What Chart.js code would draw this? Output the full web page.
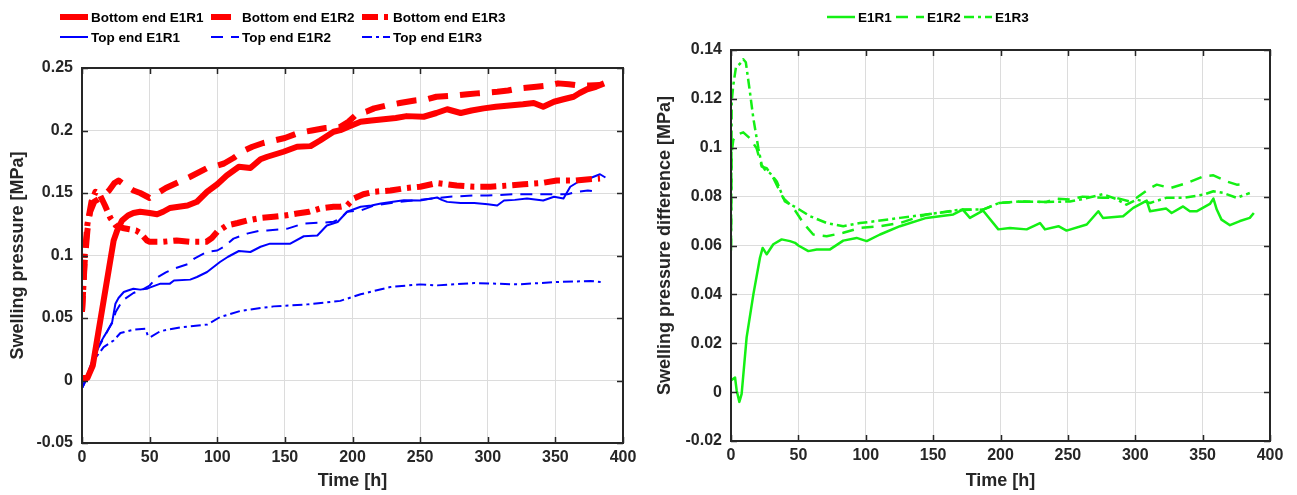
<!DOCTYPE html>
<html>
<head>
<meta charset="utf-8">
<title>Swelling pressure</title>
<script src="https://cdn.jsdelivr.net/npm/chart.js@4.4.1/dist/chart.umd.min.js"></script>
<style>
  body { margin: 0; background: #fff; }
  #wrap { position: relative; width: 1297px; height: 495px; }
  canvas { position: absolute; top: 0; }
  #left { left: 0; }
  #right { left: 645px; }
</style>
</head>
<body>
<div id="wrap">
  <canvas id="left" width="645" height="495"></canvas>
  <canvas id="right" width="652" height="495"></canvas>
</div>
<script>
// time [h] and pressure [MPa] per sensor
const tBotR1 = [0, 4, 8, 12, 16, 20, 23.4, 26, 29.6, 34, 38, 43, 50, 55.5, 60, 65, 78, 85, 92.5, 100, 107, 116, 124.5, 132, 137, 149, 159, 169, 176, 186, 191, 197, 206, 214, 223, 232, 240, 252.6, 262, 270, 280, 288, 297, 306, 314, 326, 334, 341, 349, 356, 363.5, 368, 373.5, 380, 386];
const pBotR1 = [0.002, 0.002, 0.012, 0.038, 0.064, 0.09, 0.112, 0.12, 0.128, 0.132, 0.134, 0.135, 0.134, 0.133, 0.135, 0.138, 0.14, 0.143, 0.151, 0.157, 0.164, 0.171, 0.17, 0.177, 0.179, 0.183, 0.187, 0.1875, 0.192, 0.199, 0.2003, 0.203, 0.207, 0.208, 0.209, 0.21, 0.2115, 0.211, 0.214, 0.217, 0.214, 0.216, 0.2177, 0.219, 0.2198, 0.221, 0.222, 0.219, 0.223, 0.225, 0.227, 0.23, 0.233, 0.235, 0.2377];

const tBotR2 = [0, 1, 2, 4, 6, 9, 12, 16, 20, 24, 27, 32, 38, 43, 50, 56, 62, 70, 80, 92.5, 100, 105, 112, 120, 126, 134, 142, 150, 160, 170, 180, 191, 197, 203, 210, 216, 225, 235, 246, 255, 262, 276, 285, 292, 307, 315, 323, 336, 345, 352, 360, 367, 375, 383];
const pBotR2 = [0.055, 0.075, 0.095, 0.12, 0.135, 0.143, 0.145, 0.148, 0.152, 0.158, 0.16, 0.156, 0.152, 0.15, 0.146, 0.15, 0.154, 0.158, 0.163, 0.17, 0.172, 0.1736, 0.178, 0.184, 0.187, 0.19, 0.192, 0.194, 0.198, 0.2, 0.202, 0.203, 0.207, 0.213, 0.215, 0.2177, 0.22, 0.222, 0.224, 0.225, 0.227, 0.228, 0.229, 0.2297, 0.231, 0.232, 0.2337, 0.235, 0.236, 0.2377, 0.237, 0.236, 0.236, 0.2365];

const tBotR3 = [0, 1, 2, 4, 7, 10, 13, 17, 21, 25, 30, 35, 40, 43, 48, 50, 60, 70, 80, 92, 96, 100, 107, 115, 122, 132, 141.7, 150, 159, 168, 176, 186, 191, 196, 201, 208, 216, 228, 240, 250, 262.5, 270, 277, 290, 302, 315, 326.6, 340, 351, 365, 375, 383];
const pBotR3 = [0.055, 0.075, 0.1, 0.125, 0.143, 0.151, 0.149, 0.14, 0.13, 0.124, 0.122, 0.121, 0.12, 0.118, 0.112, 0.111, 0.111, 0.112, 0.111, 0.111, 0.114, 0.119, 0.124, 0.126, 0.128, 0.13, 0.131, 0.132, 0.1336, 0.135, 0.1376, 0.139, 0.139, 0.14, 0.1456, 0.149, 0.151, 0.152, 0.154, 0.155, 0.158, 0.157, 0.156, 0.155, 0.155, 0.156, 0.157, 0.158, 0.16, 0.16, 0.161, 0.1616];

const tTopR1 = [0, 1.3, 5, 8.6, 12, 16, 19, 22.3, 24.7, 27, 30.9, 34, 38, 43, 48, 50, 58, 65, 68, 80, 85, 92.5, 102, 108, 116, 124.5, 132, 139, 147, 154, 164, 174, 181, 189, 196, 206, 214, 221, 230, 238, 250, 262.6, 266, 270, 280, 290, 300, 307, 312, 320, 329, 341, 349, 356, 361, 368.5, 376, 383, 387];
const pTopR1 = [-0.006, -0.003, 0.008, 0.0187, 0.027, 0.0347, 0.04, 0.0467, 0.0614, 0.066, 0.0708, 0.072, 0.0734, 0.0727, 0.0734, 0.0743, 0.0775, 0.0775, 0.08, 0.0807, 0.0828, 0.0868, 0.0948, 0.099, 0.1036, 0.1028, 0.107, 0.1095, 0.1095, 0.1095, 0.1154, 0.116, 0.124, 0.1268, 0.135, 0.139, 0.14, 0.1416, 0.143, 0.1442, 0.144, 0.1464, 0.1445, 0.1429, 0.142, 0.142, 0.141, 0.14, 0.144, 0.1445, 0.1456, 0.144, 0.147, 0.1456, 0.155, 0.16, 0.162, 0.165, 0.1624];

const tTopR2 = [0, 1.3, 5, 8.6, 12, 16, 19, 22.3, 25, 30, 38, 45, 50, 55, 62, 68, 78, 83, 92.5, 100, 105, 112, 122, 132, 137, 152, 164, 179, 186, 191, 196, 206, 216, 235, 245, 260, 272, 290, 300, 319, 339, 349, 359, 366, 374, 381];
const pTopR2 = [-0.006, -0.003, 0.007, 0.017, 0.026, 0.034, 0.04, 0.046, 0.055, 0.064, 0.07, 0.073, 0.076, 0.082, 0.0865, 0.0895, 0.093, 0.0975, 0.103, 0.104, 0.107, 0.1135, 0.1175, 0.12, 0.12, 0.1215, 0.1256, 0.1264, 0.127, 0.1296, 0.135, 0.136, 0.14, 0.143, 0.144, 0.1456, 0.147, 0.148, 0.148, 0.149, 0.149, 0.149, 0.149, 0.151, 0.152, 0.151];

const tTopR3 = [0, 2, 8.5, 16, 23.4, 28.4, 38, 47, 48.6, 50.6, 58, 72.7, 92.5, 102, 117, 132, 141.7, 166.5, 191, 206, 228, 250, 262.6, 290, 322, 351, 376, 383.5];
const pTopR3 = [-0.006, -0.002, 0.016, 0.0267, 0.032, 0.038, 0.0406, 0.0414, 0.036, 0.0347, 0.0395, 0.0425, 0.0447, 0.0507, 0.0556, 0.058, 0.0593, 0.0609, 0.0637, 0.069, 0.0748, 0.0769, 0.0761, 0.078, 0.0769, 0.0788, 0.0796, 0.0788];

// bottom minus top difference [MPa]
const tDiffR1 = [0, 1.7, 3, 4.2, 6.2, 7.9, 11.6, 16.6, 21.5, 23.5, 26.5, 31.4, 37.6, 43.8, 47.5, 50, 57.4, 63.6, 73.5, 83.3, 93.2, 100.7, 110.6, 125.4, 145, 165, 172, 177.3, 187, 198.4, 207, 219.4, 229.3, 233, 243, 249, 264, 272.6, 276, 291, 298.5, 308.5, 311, 323, 327, 335.5, 340.5, 345.5, 355.4, 358, 360.5, 364, 370.3, 377.7, 385, 388];
const dDiffR1 = [0.0048, 0.0055, 0.006, 0.0007, -0.004, -0.0007, 0.0224, 0.04, 0.055, 0.059, 0.0564, 0.0605, 0.0625, 0.0618, 0.0611, 0.06, 0.0577, 0.0584, 0.0584, 0.062, 0.0631, 0.0618, 0.0645, 0.0679, 0.0713, 0.0727, 0.0747, 0.0713, 0.0743, 0.0666, 0.0672, 0.0666, 0.0692, 0.0666, 0.0679, 0.0661, 0.0686, 0.074, 0.0713, 0.072, 0.0754, 0.0784, 0.074, 0.0751, 0.0733, 0.076, 0.074, 0.074, 0.077, 0.0792, 0.0747, 0.0706, 0.0683, 0.07, 0.0713, 0.0733];

const tDiffR2 = [0, 0.5, 1.7, 4.2, 9.1, 14, 19, 22.8, 26.5, 31.4, 38.8, 46.3, 53.7, 61, 71, 83.3, 95.7, 110.6, 125.4, 145, 170, 187, 199, 214.5, 234, 241.7, 251.6, 261, 276, 286, 296, 301, 311, 316, 326, 338, 350.5, 358, 368, 375.3, 383];
const dDiffR2 = [0.058, 0.098, 0.1032, 0.1053, 0.1063, 0.1039, 0.0998, 0.0923, 0.0916, 0.0876, 0.0794, 0.0754, 0.0692, 0.0645, 0.0638, 0.0652, 0.0672, 0.0679, 0.0692, 0.0727, 0.0745, 0.0747, 0.0774, 0.078, 0.0778, 0.0792, 0.0788, 0.08, 0.0795, 0.0795, 0.078, 0.0795, 0.0835, 0.0849, 0.0835, 0.0855, 0.0883, 0.0887, 0.0862, 0.0849, 0.0851];

const tDiffR3 = [0, 0.5, 1.7, 3.7, 6.7, 9.1, 11, 14, 16.6, 20.3, 22.8, 25.2, 29, 34, 40, 48.8, 58.6, 71, 83.3, 95.7, 108, 125.4, 145, 170, 187, 199, 214.5, 234, 251.6, 261, 276, 286, 293.5, 301, 311, 323, 335.5, 350.5, 358, 365.4, 375.3, 385];
const dDiffR3 = [0.06, 0.119, 0.1256, 0.133, 0.1344, 0.1362, 0.135, 0.123, 0.112, 0.0998, 0.093, 0.091, 0.0896, 0.0862, 0.078, 0.0754, 0.072, 0.0692, 0.0679, 0.0692, 0.07, 0.0713, 0.0727, 0.0747, 0.0747, 0.0774, 0.078, 0.0778, 0.078, 0.079, 0.081, 0.079, 0.0767, 0.0788, 0.0774, 0.0795, 0.0795, 0.0808, 0.0822, 0.0815, 0.0795, 0.0815];

const pts = (t, v) => t.map((x, i) => ({ x: x, y: v[i] }));

const FONT = '"Liberation Sans", Arial, Helvetica, sans-serif';
const INK = '#262626';
const RED = '#ff0000', BLUE = '#0000ff', GREEN = '#14f014';

// box around the axes with inward ticks on all four sides
const matlabBox = {
    id: 'matlabBox',
    afterDatasetsDraw(chart) {
        const { ctx, chartArea: a, scales } = chart;
        const len = 6;
        ctx.save();
        ctx.strokeStyle = INK;
        ctx.lineWidth = 1.5;
        ctx.beginPath();
        scales.x.ticks.forEach((tk) => {
            const px = Math.round(scales.x.getPixelForValue(tk.value)) + 0.5;
            ctx.moveTo(px, a.bottom); ctx.lineTo(px, a.bottom - len);
            ctx.moveTo(px, a.top); ctx.lineTo(px, a.top + len);
        });
        scales.y.ticks.forEach((tk) => {
            const py = Math.round(scales.y.getPixelForValue(tk.value)) + 0.5;
            ctx.moveTo(a.left, py); ctx.lineTo(a.left + len, py);
            ctx.moveTo(a.right, py); ctx.lineTo(a.right - len, py);
        });
        ctx.stroke();
        ctx.lineWidth = 2;
        ctx.strokeRect(a.left, a.top, a.right - a.left, a.bottom - a.top);
        ctx.restore();
    }
};

// legend laid out in fixed cells
const cellLegend = {
    id: 'cellLegend',
    afterDraw(chart, args, opts) {
        const ctx = chart.ctx;
        ctx.save();
        ctx.font = 'bold ' + opts.size + 'px ' + FONT;
        ctx.textBaseline = 'middle';
        chart.data.datasets.forEach((ds, i) => {
            const c = opts.cells[i];
            ctx.strokeStyle = ds.borderColor;
            ctx.lineWidth = ds.borderWidth;
            ctx.lineCap = 'butt';
            ctx.setLineDash(ds.borderDash || []);
            ctx.beginPath();
            ctx.moveTo(c[0], c[1]);
            ctx.lineTo(c[0] + opts.lineLength, c[1]);
            ctx.stroke();
            ctx.setLineDash([]);
            ctx.fillStyle = '#000';
            ctx.fillText(ds.label, c[0] + opts.lineLength + 3, c[1] + 1);
        });
        ctx.restore();
    }
};

function series(label, t, v, color, width, dash) {
    return {
        label: label,
        data: pts(t, v),
        borderColor: color,
        backgroundColor: color,
        borderWidth: width,
        borderDash: dash,
        borderCapStyle: 'butt',
        borderJoinStyle: 'round',
        pointRadius: 0,
        tension: 0,
        fill: false
    };
}

function makeOptions(o) {
    const tickFont = { family: FONT, size: 16, weight: 'bold' };
    const titleFont = { family: FONT, size: 18, weight: 'bold' };
    return {
        responsive: false,
        animation: false,
        events: [],
        layout: { padding: { top: o.top, right: o.right, left: 0, bottom: 0 } },
        plugins: {
            legend: { display: false },
            tooltip: { enabled: false },
            cellLegend: o.legend
        },
        scales: {
            x: {
                type: 'linear',
                min: 0,
                max: 400,
                ticks: { stepSize: 50, font: tickFont, color: INK, padding: 5, maxRotation: 0 },
                grid: { color: '#dcdcdc', lineWidth: 1, drawTicks: false },
                border: { display: false },
                title: { display: true, text: 'Time [h]', font: titleFont, color: INK, padding: { top: 0, bottom: 3 } },
                afterFit: (s) => { s.height = o.xHeight; }
            },
            y: {
                min: o.yMin,
                max: o.yMax,
                ticks: {
                    stepSize: o.yStep,
                    font: tickFont,
                    color: INK,
                    padding: 9,
                    callback: (v) => String(+v.toFixed(2))
                },
                grid: { color: '#dcdcdc', lineWidth: 1, drawTicks: false },
                border: { display: false },
                title: { display: true, text: o.yTitle, font: titleFont, color: INK, padding: { top: o.titlePad, bottom: 0 } },
                afterFit: (s) => { s.width = o.yWidth; }
            }
        }
    };
}

new Chart(document.getElementById('left'), {
    type: 'line',
    data: {
        datasets: [
            series('Bottom end E1R1', tBotR1, pBotR1, RED, 6, []),
            series('Bottom end E1R2', tBotR2, pBotR2, RED, 6, [20, 12]),
            series('Bottom end E1R3', tBotR3, pBotR3, RED, 6, [16, 6, 4, 6]),
            series('Top end E1R1', tTopR1, pTopR1, BLUE, 2, []),
            series('Top end E1R2', tTopR2, pTopR2, BLUE, 2, [12, 8]),
            series('Top end E1R3', tTopR3, pTopR3, BLUE, 2, [10, 4, 3, 4])
        ]
    },
    options: makeOptions({
        top: 68, right: 22, xHeight: 52, yWidth: 82,
        yMin: -0.05, yMax: 0.25, yStep: 0.05,
        yTitle: 'Swelling pressure [MPa]', titlePad: 7,
        legend: {
            size: 13.5, lineLength: 28,
            cells: [[60, 17], [211, 17], [362, 17], [60, 37], [211, 37], [362, 37]]
        }
    }),
    plugins: [matlabBox, cellLegend]
});

new Chart(document.getElementById('right'), {
    type: 'line',
    data: {
        datasets: [
            series('E1R1', tDiffR1, dDiffR1, GREEN, 2.5, []),
            series('E1R2', tDiffR2, dDiffR2, GREEN, 2.5, [12, 8]),
            series('E1R3', tDiffR3, dDiffR3, GREEN, 2.5, [10, 4, 3, 4])
        ]
    },
    options: makeOptions({
        top: 50, right: 27, xHeight: 54, yWidth: 86,
        yMin: -0.02, yMax: 0.14, yStep: 0.02,
        yTitle: 'Swelling pressure difference [MPa]', titlePad: 9,
        legend: {
            size: 13.5, lineLength: 28,
            cells: [[182, 17], [251, 17], [319, 17]]
        }
    }),
    plugins: [matlabBox, cellLegend]
});
</script>
</body>
</html>
